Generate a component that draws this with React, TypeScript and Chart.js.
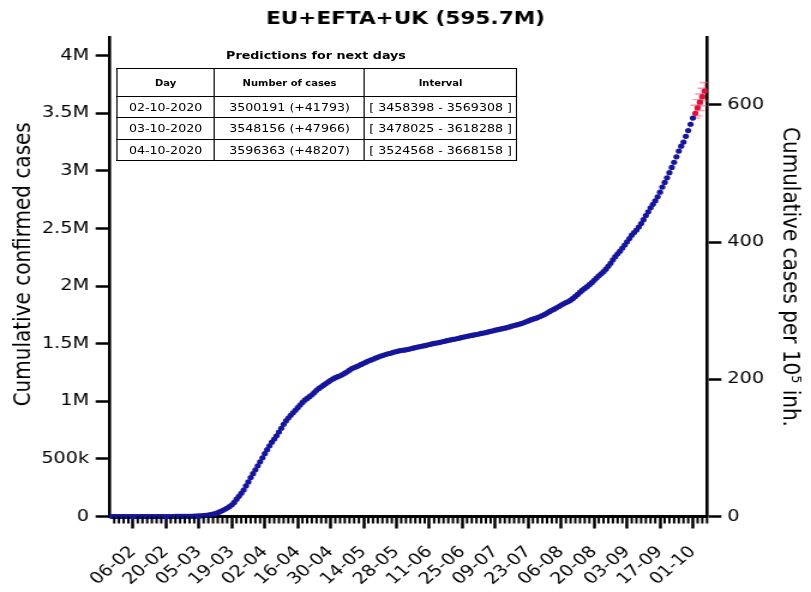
import React, { useEffect, useRef } from 'react';
import { Chart, registerables } from 'chart.js';

Chart.register(...registerables);

// ---------------- data ----------------
const TITLE = 'EU+EFTA+UK (595.7M)';
const POPULATION = 595.7e6;
const FIRST_DATE = '2020-01-28';

// cumulative confirmed cases (thousands), one value per day from FIRST_DATE to 2020-10-01
const confirmedK = [
  // Jan 28-31
  0.008, 0.01, 0.012, 0.02,
  // Feb
  0.023, 0.024, 0.026, 0.028, 0.03, 0.033, 0.036, 0.039, 0.042, 0.044, 0.046, 0.046, 0.046, 0.046, 0.047,
  0.047, 0.047, 0.047, 0.047, 0.047, 0.06, 0.11, 0.2, 0.27, 0.37, 0.5, 0.67, 0.9, 1.2,
  // Mar
  1.8, 2.3, 2.8, 3.6, 4.7, 6.2, 7.8, 10.2, 13.2, 16.5, 20.6, 25.8, 33, 42, 52, 63, 74, 86, 102, 122,
  150, 175, 202, 230, 265, 300, 338, 372, 405, 440, 475,
  // Apr
  510, 545, 580, 614, 645, 672, 700, 733, 766, 800, 830, 855, 878, 900, 922, 945, 968, 990, 1010, 1025,
  1040, 1056, 1075, 1095, 1112, 1126, 1140, 1154, 1168, 1182,
  // May
  1194, 1205, 1214, 1222, 1232, 1244, 1256, 1270, 1284, 1293, 1301, 1310, 1320, 1330, 1340, 1349, 1357,
  1365, 1374, 1382, 1390, 1397, 1404, 1410, 1415, 1421, 1427, 1432, 1437, 1441, 1444,
  // Jun
  1447, 1451, 1456, 1461, 1466, 1471, 1475, 1479, 1483, 1488, 1493, 1498, 1502, 1506, 1510, 1514, 1519,
  1524, 1529, 1533, 1537, 1541, 1545, 1550, 1555, 1560, 1564, 1568, 1572, 1576,
  // Jul
  1580, 1584, 1589, 1593, 1597, 1602, 1607, 1612, 1617, 1622, 1626, 1630, 1635, 1640, 1646, 1652, 1658,
  1663, 1668, 1675, 1682, 1690, 1698, 1706, 1713, 1719, 1727, 1736, 1745, 1755, 1766,
  // Aug
  1778, 1790, 1800, 1811, 1823, 1835, 1847, 1857, 1866, 1878, 1893, 1910, 1928, 1947, 1965, 1980, 1995,
  2012, 2030, 2050, 2070, 2090, 2107, 2125, 2147, 2172, 2198, 2228, 2255, 2280, 2303,
  // Sep
  2330, 2356, 2384, 2413, 2442, 2465, 2487, 2513, 2543, 2577, 2612, 2645, 2680, 2710, 2740, 2775, 2815,
  2860, 2900, 2940, 2985, 3030, 3075, 3122, 3172, 3215, 3250, 3300, 3350, 3405,
  // Oct 1
  3458.398,
];

// predictions
const predDates = ['2020-10-02', '2020-10-03', '2020-10-04', '2020-10-05', '2020-10-06'];
const predCases = [3500191, 3548156, 3596363, 3644500, 3693000];
const predLower = [3458398, 3478025, 3524568, 3566000, 3608000];
const predUpper = [3569308, 3618288, 3668158, 3718000, 3768000];

// table
const tableHeader = ['Day', 'Number of cases', 'Interval'];
const tableDays = ['02-10-2020', '03-10-2020', '04-10-2020'];
const tableCases = ['3500191 (+41793)', '3548156 (+47966)', '3596363 (+48207)'];
const tableIntervals = ['[ 3458398 - 3569308 ]', '[ 3478025 - 3618288 ]', '[ 3524568 - 3668158 ]'];

// axes
const xTickDates = [
  '2020-02-06', '2020-02-20', '2020-03-05', '2020-03-19', '2020-04-02', '2020-04-16', '2020-04-30',
  '2020-05-14', '2020-05-28', '2020-06-11', '2020-06-25', '2020-07-09', '2020-07-23', '2020-08-06',
  '2020-08-20', '2020-09-03', '2020-09-17', '2020-10-01',
];
const leftTicks = [0, 500000, 1000000, 1500000, 2000000, 2500000, 3000000, 3500000, 4000000];
const rightTicks = [0, 200, 400, 600];
const X_MIN_DATE = '2020-01-27';
const X_MAX_DATE = '2020-10-07';
const Y_MAX = 4158000;
const LEFT_TITLE = 'Cumulative confirmed cases';
const RIGHT_TITLE = 'Cumulative cases per 10\u2075 inh.';

// ---------------- helpers ----------------
const DAY = 86400000;
const EPOCH = Date.UTC(2020, 0, 1);
const dayOf = (s: string) => {
  const [y, m, d] = s.split('-').map(Number);
  return (Date.UTC(y, m - 1, d) - EPOCH) / DAY;
};
const fmtDay = (v: number) => {
  const dt = new Date(EPOCH + Math.round(v) * DAY);
  const dd = String(dt.getUTCDate()).padStart(2, '0');
  const mm = String(dt.getUTCMonth() + 1).padStart(2, '0');
  return `${dd}-${mm}`;
};
const fmtCases = (v: number) => {
  if (v === 0) return '0';
  if (v < 1e6) return `${v / 1000}k`;
  return `${v / 1e6}M`;
};

const W = 676;
const H = 592;
const SX = 811 / W;
const FONT = "'DejaVu Sans', 'Noto Sans', sans-serif";

const firstDay = dayOf(FIRST_DATE);
const xMin = dayOf(X_MIN_DATE) + 0.2;
const xMax = dayOf(X_MAX_DATE);
const majorDays = xTickDates.map(dayOf);

const errorBarPlugin = {
  id: 'errorBars',
  beforeDatasetsDraw(chart: any) {
    const { ctx, scales } = chart;
    const xs = scales.x;
    const ys = scales.y;
    ctx.save();
    ctx.strokeStyle = 'rgba(236, 70, 100, 0.55)';
    ctx.lineWidth = 1.4;
    predDates.forEach((d, i) => {
      const x = xs.getPixelForValue(dayOf(d));
      const yl = ys.getPixelForValue(predLower[i]);
      const yu = ys.getPixelForValue(predUpper[i]);
      ctx.beginPath();
      ctx.moveTo(x, yl);
      ctx.lineTo(x, yu);
      ctx.moveTo(x - 4, yl);
      ctx.lineTo(x + 4, yl);
      ctx.moveTo(x - 4, yu);
      ctx.lineTo(x + 4, yu);
      ctx.stroke();
    });
    ctx.restore();
  },
};

const minorTickPlugin = {
  id: 'minorTicks',
  afterDraw(chart: any) {
    const { ctx, scales, chartArea } = chart;
    const xs = scales.x;
    ctx.save();
    ctx.strokeStyle = '#000';
    ctx.lineWidth = 2;
    const base = majorDays[0];
    for (let d = base - 2 * Math.floor((base - xMin) / 2); d <= xMax; d += 2) {
      if (majorDays.includes(d)) continue;
      const x = xs.getPixelForValue(d);
      ctx.beginPath();
      ctx.moveTo(x, chartArea.bottom);
      ctx.lineTo(x, chartArea.bottom + 7);
      ctx.stroke();
    }
    ctx.restore();
  },
};

export default function App() {
  const ref = useRef<HTMLCanvasElement>(null);

  useEffect(() => {
    document.body.style.margin = '0';
    document.body.style.overflow = 'hidden';
    Chart.defaults.font.family = FONT;
    Chart.defaults.color = '#000';

    const blue = confirmedK.map((v, i) => ({ x: firstDay + i, y: v * 1000 }));
    const red = predDates.map((d, i) => ({ x: dayOf(d), y: predCases[i] }));

    const tickGrid = {
      drawOnChartArea: false,
      drawTicks: true,
      tickLength: 12,
      tickWidth: 2.5,
      tickColor: '#000',
    };

    const chart = new Chart(ref.current as HTMLCanvasElement, {
      type: 'scatter',
      data: {
        datasets: [
          {
            data: blue,
            showLine: true,
            borderColor: 'rgba(255, 150, 70, 0.7)',
            borderWidth: 0.8,
            pointRadius: 2.6,
            pointBorderWidth: 0,
            pointBackgroundColor: '#16169c',
            clip: false,
            xAxisID: 'x',
            yAxisID: 'y',
          } as any,
          {
            data: red,
            showLine: false,
            pointRadius: 2.6,
            pointBorderWidth: 0,
            pointBackgroundColor: '#dc143c',
            clip: false,
            xAxisID: 'x',
            yAxisID: 'y',
          } as any,
        ],
      },
      options: {
        animation: false,
        responsive: false,
        devicePixelRatio: 1,
        layout: { padding: 0 },
        plugins: {
          legend: { display: false },
          tooltip: { enabled: false },
          title: {
            display: true,
            text: TITLE,
            color: '#000',
            font: { size: 18, weight: 'bold', family: FONT },
            padding: { top: 8.7, bottom: 7.2 },
          },
        },
        scales: {
          x: {
            type: 'linear',
            position: 'bottom',
            min: xMin,
            max: xMax,
            afterBuildTicks: (s: any) => {
              s.ticks = majorDays.map((v) => ({ value: v }));
            },
            afterFit: (s: any) => {
              s.height = H - 516.5;
            },
            grid: tickGrid,
            border: { display: true, color: '#000', width: 3 },
            ticks: {
              autoSkip: false,
              maxRotation: 45,
              minRotation: 45,
              color: '#000',
              font: { size: 16, family: FONT },
              padding: 14,
              callback: (v: any) => fmtDay(Number(v)),
            },
          },
          y: {
            type: 'linear',
            position: 'left',
            min: 0,
            max: Y_MAX,
            afterBuildTicks: (s: any) => {
              s.ticks = leftTicks.map((v) => ({ value: v }));
            },
            afterFit: (s: any) => {
              s.width = 110 / SX;
            },
            grid: tickGrid,
            border: { display: true, color: '#000', width: 2.6 },
            ticks: {
              color: '#000',
              font: { size: 16, family: FONT },
              padding: 5.5,
              callback: (v: any) => fmtCases(Number(v)),
            },
            title: {
              display: true,
              text: '    ' + LEFT_TITLE,
              color: '#000',
              font: { size: 20, family: FONT },
              padding: { top: 8, bottom: 0 },
            },
          },
          y2: {
            type: 'linear',
            position: 'right',
            min: 0,
            max: (Y_MAX / POPULATION) * 1e5,
            afterBuildTicks: (s: any) => {
              s.ticks = rightTicks.map((v) => ({ value: v }));
            },
            afterFit: (s: any) => {
              s.width = W - 707 / SX;
            },
            grid: tickGrid,
            border: { display: true, color: '#000', width: 2.6 },
            ticks: {
              color: '#000',
              font: { size: 16, family: FONT },
              padding: 5,
              callback: (v: any) => String(v),
            },
            title: {
              display: true,
              text: RIGHT_TITLE,
              color: '#000',
              font: { size: 20, family: FONT },
              padding: { top: 6, bottom: 0 },
            },
          },
        },
      } as any,
      plugins: [errorBarPlugin, minorTickPlugin],
    });
    return () => chart.destroy();
  }, []);

  const tLeft = 116 / SX;
  const tWidth = 400 / SX;
  const colW = [98 / SX, 150 / SX, 152 / SX];
  const cell: React.CSSProperties = {
    border: '1px solid #000',
    padding: 0,
    textAlign: 'center',
    whiteSpace: 'nowrap',
    overflow: 'hidden',
  };

  return (
    <div
      style={{
        position: 'relative',
        width: W,
        height: H,
        transform: `scaleX(${SX})`,
        transformOrigin: '0 0',
        fontFamily: FONT,
        background: '#fff',
      }}
    >
      <canvas ref={ref} width={W} height={H} style={{ width: W, height: H, display: 'block' }} />
      <div
        style={{
          position: 'absolute',
          left: tLeft,
          width: tWidth,
          top: 47.5,
          lineHeight: '14px',
          fontSize: 10.6,
          fontWeight: 'bold',
          textAlign: 'center',
          color: '#000',
        }}
      >
        Predictions for next days
      </div>
      <table
        style={{
          position: 'absolute',
          left: tLeft,
          top: 68.3,
          width: tWidth,
          borderCollapse: 'collapse',
          tableLayout: 'fixed',
          border: '1.5px solid #000',
          background: '#fff',
          color: '#000',
        }}
      >
        <colgroup>
          {colW.map((w, i) => (
            <col key={i} style={{ width: w }} />
          ))}
        </colgroup>
        <thead>
          <tr style={{ height: 27.7 }}>
            {tableHeader.map((h) => (
              <th key={h} style={{ ...cell, fontSize: 8.3, fontWeight: 'bold' }}>
                {h}
              </th>
            ))}
          </tr>
        </thead>
        <tbody>
          {tableDays.map((d, i) => (
            <tr key={d} style={{ height: 21.3 }}>
              <td style={{ ...cell, fontSize: 10.5 }}>{d}</td>
              <td style={{ ...cell, fontSize: 10.5 }}>{tableCases[i]}</td>
              <td style={{ ...cell, fontSize: 10.5 }}>{tableIntervals[i]}</td>
            </tr>
          ))}
        </tbody>
      </table>
    </div>
  );
}
